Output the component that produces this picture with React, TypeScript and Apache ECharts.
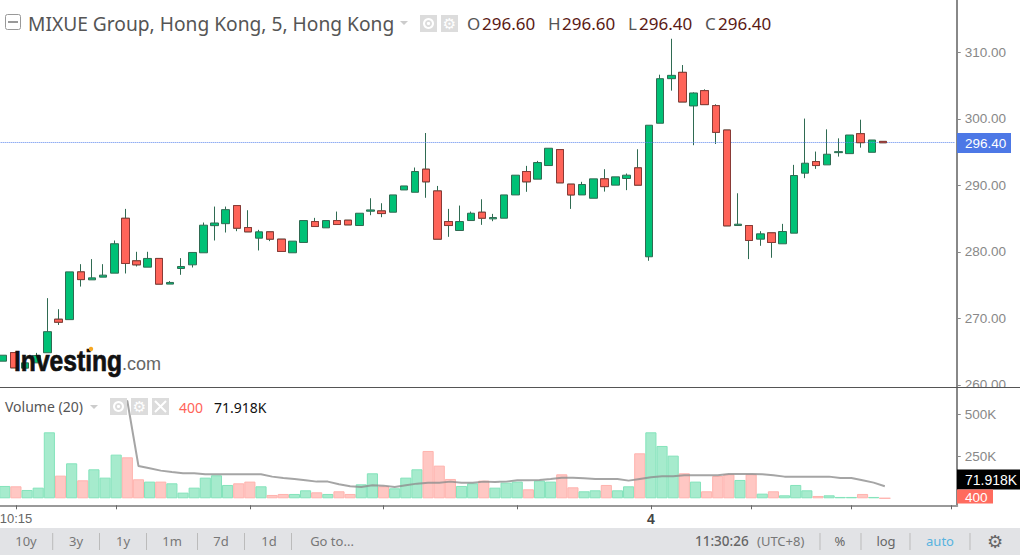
import React, { useEffect, useRef } from "react";
import * as echarts from "echarts";

const opens = [263.55,264.85,262.5,263.3,264.82,269.86,269.8,276.98,275.78,276.19,276.79,285.04,278.64,277.69,279.0,275.14,277.49,278.04,279.85,283.93,284.23,286.95,283.65,282.05,283.0,281.9,279.85,281.4,284.55,283.6,284.7,284.75,283.95,286.1,286.15,285.95,289.3,288.95,292.42,289.15,284.55,283.2,284.7,285.95,284.95,285.05,288.55,292.07,290.92,292.97,295.37,290.17,288.55,288.05,290.97,290.02,291.02,292.62,279.25,299.33,306.03,306.98,301.93,304.23,301.98,298.31,283.95,283.95,281.9,282.85,281.2,282.8,291.82,293.57,293.07,294.91,294.76,297.76,294.96,296.6];
const closes = [264.45,262.55,263.3,264.4,267.99,269.41,276.98,275.82,276.08,276.49,281.21,278.24,278.04,279.0,275.14,275.39,277.79,279.9,284.0,284.33,286.34,283.55,283.0,283.0,281.9,280.05,281.6,284.7,283.8,284.7,284.1,284.05,285.8,286.3,285.75,288.55,289.9,292.07,290.52,281.9,283.95,284.55,285.8,285.05,285.15,288.55,291.52,290.52,293.42,295.57,290.37,288.55,290.12,290.97,289.8,291.27,291.52,290.02,299.03,306.03,306.53,302.53,303.88,302.13,297.96,283.9,284.15,281.7,282.7,281.4,283.05,291.47,293.32,292.97,294.67,295.06,297.56,296.41,296.81,296.4];
const lows = [263.55,262.55,262.5,263.3,264.82,269.0,269.8,274.77,275.78,276.19,276.79,276.74,277.79,277.69,275.14,275.14,276.54,277.64,279.85,281.7,282.9,283.1,283.0,280.2,281.6,280.05,279.85,281.4,283.8,283.6,284.1,284.05,283.95,285.5,285.2,285.95,289.3,288.95,288.12,281.9,282.25,283.2,284.7,284.05,284.6,285.05,288.55,289.02,290.92,292.97,290.37,286.45,288.55,288.05,289.05,290.02,289.27,290.02,278.65,299.33,304.23,302.53,296.03,302.13,296.21,283.9,283.95,278.9,280.9,279.1,281.2,282.8,291.07,292.47,293.07,294.31,294.76,295.66,294.96,296.4];
const highs = [264.45,264.85,263.3,264.8,273.03,271.37,276.98,278.14,278.9,278.14,281.7,286.45,280.0,280.0,279.0,275.59,279.05,279.9,284.4,286.8,286.8,286.95,286.25,283.3,283.0,281.9,281.6,284.7,285.1,284.7,286.05,284.75,285.8,288.05,287.3,288.55,289.9,292.67,297.86,289.9,286.45,286.95,286.05,287.9,285.7,288.55,291.52,292.92,293.67,295.57,295.37,290.17,290.52,290.97,292.42,291.27,291.77,295.42,299.03,306.63,312.03,308.08,303.98,304.43,302.18,298.31,288.8,283.95,283.1,282.85,284.2,293.07,300.03,295.07,298.41,297.06,297.56,299.86,296.81,296.6];
const volumes = [73600,71600,49700,63600,393800,135300,208800,107400,173000,123300,260600,244600,113400,99500,99500,89500,33800,63600,123300,137200,79600,89500,99500,71600,19900,25900,25900,47700,35800,25900,41800,25900,83500,149200,71600,59700,123300,173000,282400,194900,115400,73600,89500,105400,63600,93500,99500,53700,105400,99500,143200,65600,41800,47700,79600,47700,71600,268500,393800,312300,254600,149200,99500,41800,133300,143200,109400,143200,27800,41800,17900,79600,47700,13900,17900,8000,8000,25900,8000,400];
const volumeMA = [null,null,null,null,null,null,null,null,null,null,580800,580800,192900,179000,165100,157100,149200,149200,143200,143200,143200,143200,143200,143200,129300,121300,115400,107400,99500,99500,83500,71600,67600,77600,75600,67600,77600,87500,93500,93500,99500,93500,93500,99500,97500,99500,107400,107400,109400,115400,123300,123300,119300,115400,115400,115400,105400,115400,125300,131300,131300,137200,137200,137200,137200,145200,145200,145200,143200,137200,129300,129300,129300,129300,129300,121300,121300,107400,93500,71918];
const priceTicks = [260, 270, 280, 290, 300, 310];
const volumeTicks = [250000, 500000];
const xTickIndices = [1, 10, 22, 34, 46, 58, 67, 76, 85];
const xLabels: Record<number, string> = { 1: "10:15", 58: "4" };
const categoryCount = 86;
const lastPrice = 296.4;
const rangeButtons: [string, number][] = [["10y", 26], ["3y", 76], ["1y", 123], ["1m", 172], ["7d", 221], ["1d", 269], ["Go to...", 332]];
const toolbarSeparators = [52.7, 99.5, 146.5, 197.5, 244.5, 291.5, 820, 861, 910, 970];

const UI_FONT = '"Noto Sans", sans-serif';
const AXIS_FONT = '"Liberation Sans", Arial, sans-serif';
const GREEN = "#00c176";
const RED = "#ff6459";
const WICK = "#2f6b52";
const RED_EDGE = "#8a3a36";
// the canvas starts left of the page so the first band can be cut off by the page edge
const BLEED = 10;

const txt = (text: string, x: number, y: number, fill: string, size: number, extra: any = {}) => ({
  type: "text",
  z: 60,
  silent: true,
  x,
  y,
  scaleX: extra.scaleX || 1,
  style: {
    text,
    fill,
    font: `${extra.weight || "normal"} ${size}px ${extra.family || UI_FONT}`,
    textAlign: extra.align || "left",
    textVerticalAlign: "middle",
    ...(extra.stroke ? { stroke: extra.stroke, lineWidth: extra.strokeWidth || 0.6 } : {}),
  },
});
const box = (x: number, y: number, w: number, h: number, fill: string, z = 60) => ({
  type: "rect",
  z,
  silent: true,
  shape: { x, y, width: w, height: h },
  style: { fill },
});
const ln = (x1: number, y1: number, x2: number, y2: number, stroke: string, lineWidth = 1, z = 60) => ({
  type: "line",
  z,
  silent: true,
  shape: { x1, y1, x2, y2 },
  style: { stroke, lineWidth },
});
const eye = (x: number, y: number) => [
  box(x, y, 17, 17, "#dcdcdc"),
  { type: "ring", z: 61, silent: true, shape: { cx: x + 8.5, cy: y + 8.5, r: 5.5, r0: 3.5 }, style: { fill: "#fff" } },
  { type: "circle", z: 61, silent: true, shape: { cx: x + 8.5, cy: y + 8.5, r: 1.6 }, style: { fill: "#fff" } },
];
const gear = (x: number, y: number) => [
  box(x, y, 17, 17, "#dcdcdc"),
  { ...txt("\u2699", x + 8.5, y + 8.5, "#fff", 15, { family: '"DejaVu Sans"', align: "center" }), z: 61 },
];

export default function App() {
  const ref = useRef<HTMLDivElement>(null);
  useEffect(() => {
    const chart = echarts.init(ref.current!, undefined, { renderer: "svg" });
    const cats = Array.from({ length: categoryCount }, (_, i) => String(i));
    const candles = opens.map((o, i) => [o, closes[i], lows[i], highs[i]]);
    const redBodies = opens.map((o, i) =>
      closes[i] < o ? [o, closes[i], closes[i], o] : ["-", "-", "-", "-"]
    );
    const volumeData = volumes.map((v, i) => ({
      value: v,
      itemStyle: closes[i] >= opens[i]
        ? { color: "#a6ebcd", borderColor: "#84e3bb", borderWidth: 1 }
        : { color: "#ffc7c3", borderColor: "#ffb3ae", borderWidth: 1 },
    }));

    const graphicEls: any[] = [
      box(957.8, 388, 62.2, 117, "#fff", 2),
      ln(0, 387.5, 1020, 387.5, "#555", 1, 4),
      { type: "rect", z: 60, silent: true, shape: { x: 5.5, y: 14.5, width: 15, height: 15, r: 2 }, style: { fill: "#fff", stroke: "#999", lineWidth: 1 } },
      ln(8, 22, 18, 22, "#999", 2),
      txt("MIXUE Group, Hong Kong, 5, Hong Kong", 28, 23, "#555", 19.2),
      { type: "polygon", z: 60, silent: true, shape: { points: [[400, 21], [408, 21], [404, 25]] }, style: { fill: "#ccc" } },
      ...eye(420, 15),
      ...gear(441, 15),
      txt("O", 467, 23, "#555", 17),
      txt("296.60", 482, 23, "#5a1a14", 17),
      txt("H", 548, 23, "#555", 17),
      txt("296.60", 562, 23, "#5a1a14", 17),
      txt("L", 628, 23, "#555", 17),
      txt("296.40", 639, 23, "#5a1a14", 17),
      txt("C", 705, 23, "#555", 17),
      txt("296.40", 718, 23, "#5a1a14", 17),
      box(957, 133, 54, 20, "#4d78e6"),
      txt("296.40", 965, 143.5, "#fff", 13.5, { family: AXIS_FONT }),
      txt("Investing", 14, 361, "#111", 29, { family: AXIS_FONT, weight: "bold", scaleX: 0.85, stroke: "#111", strokeWidth: 0.7 }),
      txt(".com", 122, 363, "#666", 19, { family: AXIS_FONT, scaleX: 0.95 }),
      { type: "circle", z: 61, silent: true, shape: { cx: 91, cy: 349, r: 2.2 }, style: { fill: "#f7a823" } },
      txt("Volume (20)", 5, 406, "#555", 14),
      { type: "polygon", z: 60, silent: true, shape: { points: [[90, 405], [98, 405], [94, 409]] }, style: { fill: "#ccc" } },
      ...eye(110, 398),
      ...gear(131, 398),
      box(152, 398, 17, 17, "#dcdcdc"),
      ln(155, 401, 166, 412, "#fff", 2, 61),
      ln(166, 401, 155, 412, "#fff", 2, 61),
      txt("400", 179, 407, "#ff6459", 14),
      txt("71.918K", 214, 407, "#111", 14),
      box(957, 469.5, 63, 20, "#000"),
      txt("71.918K", 965, 479.5, "#fff", 14, { family: AXIS_FONT }),
      box(957, 489.5, 36, 14, "#ff6b5e"),
      txt("400", 965, 497.5, "#fff", 13.5, { family: AXIS_FONT }),
      box(0, 528, 1020, 27, "#e2e3e6"),
      ...rangeButtons.map(([t, x]) => txt(t, x, 541, "#777", 13, { align: "center" })),
      ...toolbarSeparators.map((x) => ln(x, 533, x, 550, "#bbb", 1)),
      txt("11:30:26", 695, 541, "#666", 13.5, { weight: "500" }),
      txt("(UTC+8)", 757, 541, "#777", 13),
      txt("%", 840, 541, "#666", 13, { align: "center" }),
      txt("log", 886, 541, "#666", 13, { align: "center" }),
      txt("auto", 940, 541, "#58b3e0", 13, { align: "center" }),
      txt("\u2699", 995, 541, "#666", 18, { family: '"DejaVu Sans"', align: "center" }),
    ];

    chart.setOption({
      animation: false,
      backgroundColor: "#fff",
      grid: [
        { left: BLEED - 2.67, width: 958, top: 0, height: 387 },
        { left: BLEED - 0.77, width: 958, top: 388, height: 117.3 },
      ],
      xAxis: [
        { type: "category", gridIndex: 0, data: cats, axisLine: { show: false, onZero: false }, axisTick: { show: false }, axisLabel: { show: false }, splitLine: { show: false } },
        {
          type: "category",
          gridIndex: 1,
          position: "bottom",
          z: 5,
          data: cats,
          axisLine: { show: true, onZero: false, lineStyle: { color: "#999", width: 2 } },
          axisTick: { show: true, alignWithLabel: true, length: 4, lineStyle: { color: "#666", width: 1 }, interval: (i: number) => xTickIndices.includes(i) },
          axisLabel: {
            interval: (i: number) => xLabels[i] !== undefined,
            formatter: (_: string, i: number) => (i === 58 ? `{b|${xLabels[i]}}` : xLabels[i] || ""),
            color: "#666",
            fontFamily: AXIS_FONT,
            fontSize: 13,
            margin: 7,
            rich: { b: { fontWeight: "bold", fontSize: 14, color: "#444", fontFamily: AXIS_FONT } },
          },
          splitLine: { show: false },
        },
      ],
      yAxis: [
        {
          type: "value",
          gridIndex: 0,
          z: 1,
          position: "right",
          offset: 1.4,
          min: 259.67,
          max: 317.86,
          scale: true,
          axisLine: { show: true, lineStyle: { color: "#888", width: 2 } },
          axisTick: { show: true, length: 4, lineStyle: { color: "#888" }, customValues: priceTicks },
          axisLabel: { customValues: priceTicks, formatter: (v: number) => v.toFixed(2), color: "#888", fontFamily: AXIS_FONT, fontSize: 13.5, margin: 8, padding: [5, 0, 0, 0] },
          splitLine: { show: false },
        },
        {
          type: "value",
          gridIndex: 1,
          z: 3,
          position: "right",
          offset: -0.5,
          min: -41770,
          max: 658160,
          axisLine: { show: true, lineStyle: { color: "#888", width: 2 } },
          axisTick: { show: true, length: 4, lineStyle: { color: "#888" }, customValues: volumeTicks },
          axisLabel: { customValues: volumeTicks, formatter: (v: number) => `${v / 1000}K`, color: "#888", fontFamily: AXIS_FONT, fontSize: 13.5, margin: 8, padding: [5, 0, 0, 0] },
          splitLine: { show: false },
        },
      ],
      series: [
        {
          type: "candlestick",
          xAxisIndex: 0,
          yAxisIndex: 0,
          barWidth: 8,
          data: candles,
          itemStyle: { color: GREEN, color0: RED, borderColor: WICK, borderColor0: WICK, borderWidth: 1 },
          markLine: {
            silent: true,
            symbol: "none",
            animation: false,
            label: { show: false },
            lineStyle: { color: "#5b86ee", type: "dotted", width: 1 },
            data: [{ yAxis: lastPrice }],
          },
        },
        {
          type: "candlestick",
          xAxisIndex: 0,
          yAxisIndex: 0,
          barWidth: 8,
          z: 10,
          data: redBodies,
          itemStyle: { color: GREEN, color0: RED, borderColor: RED_EDGE, borderColor0: RED_EDGE, borderWidth: 1 },
        },
        {
          type: "bar",
          xAxisIndex: 1,
          yAxisIndex: 1,
          barCategoryGap: 0,
          barWidth: "100%",
          data: volumeData,
        },
        {
          type: "line",
          xAxisIndex: 1,
          yAxisIndex: 1,
          data: volumeMA,
          showSymbol: false,
          connectNulls: false,
          clip: false,
          lineStyle: { color: "#8f8f8f", width: 2, opacity: 0.8 },
          z: 5,
        },
      ],
      graphic: { elements: [{ type: "group", x: BLEED, y: 0, children: graphicEls }] },
    });
    return () => chart.dispose();
  }, []);
  return <div ref={ref} style={{ position: "fixed", left: -BLEED, top: 0, width: 1020 + BLEED, height: 555 }} />;
}
